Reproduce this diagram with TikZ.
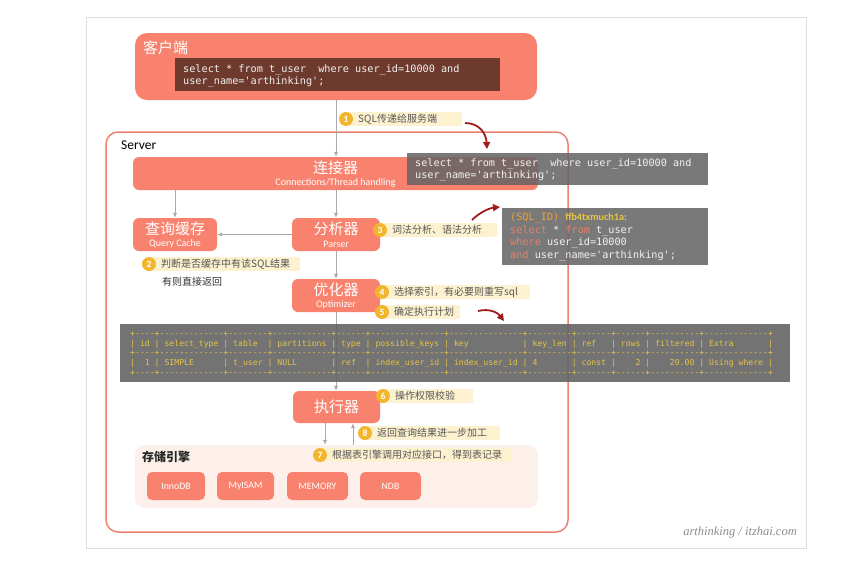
\documentclass[tikz,border=0pt]{standalone}
\usepackage{fontspec}
\setmainfont{Noto Sans CJK SC}
\newfontfamily\lat{Carlito}
\newfontfamily\wmfont{Liberation Serif}
\setmonofont{DejaVu Sans Mono}
\usetikzlibrary{arrows.meta}
\definecolor{salmon}{RGB}{249,130,110}
\definecolor{srvline}{RGB}{240,128,112}
\definecolor{codebrown}{RGB}{110,58,46}
\definecolor{codegray}{RGB}{100,100,100}
\definecolor{lblfillc}{RGB}{253,242,208}
\definecolor{badgegold}{RGB}{242,182,46}
\definecolor{lbltextc}{RGB}{85,85,85}
\definecolor{storebg}{RGB}{253,240,234}
\definecolor{arrowgray}{RGB}{170,170,170}
\definecolor{darkred}{RGB}{160,28,28}
\definecolor{kwc}{RGB}{232,130,105}
\definecolor{tblyellow}{RGB}{230,196,70}
\definecolor{sqlid}{RGB}{235,160,60}
\definecolor{framegray}{RGB}{222,222,222}
\definecolor{codewhite}{RGB}{242,242,242}
\newcommand\kwd[1]{\textcolor{kwc}{#1}}
\newcommand\steplbl[5]{%
  \fill[lblfillc] (#2+2,#3-7) rectangle (#4,#3+7);
  \node[badge] (b#1) at (#2,#3) {#1};
  \node[lbltxt, anchor=west] (t#1) at (#2+12,#3) {#5};
}
\begin{document}
\begin{tikzpicture}[x=1pt,y=-1pt,
  sbox/.style={fill=salmon, rounded corners=6pt, inner sep=0pt},
  cjktitle/.style={text=white, font=\fontsize{15}{16}\selectfont, inner sep=0pt},
  subtitle/.style={text=white, font=\lat\fontsize{10}{10}\selectfont, inner sep=0pt},
  codebox/.style={fill=codegray, fill opacity=0.86, inner sep=0pt},
  codetxt/.style={font=\ttfamily\fontsize{10.2}{12.3}\selectfont, text=codewhite, align=left, inner sep=0pt, anchor=west},
  garrow/.style={draw=arrowgray, line width=1pt, -{Latex[length=5pt,width=4.5pt]}},
  rarrow/.style={draw=darkred, line width=1.8pt, -{Triangle[length=7pt,width=7pt]}},
  badge/.style={circle, fill=badgegold, text=white, inner sep=0pt, minimum size=14pt, font=\lat\bfseries\fontsize{9.5}{9.5}\selectfont},
  lbltxt/.style={text=lbltextc, inner sep=0pt, font=\fontsize{10}{11}\selectfont},
  engine/.style={fill=salmon, rounded corners=5pt, minimum height=28pt, inner sep=0pt, text=white, font=\lat\fontsize{9.8}{10}\selectfont}
]
\useasboundingbox (0,0) rectangle (859,560);
\fill[white] (0,0) rectangle (859,560);
\draw[framegray, line width=0.8pt] (86,17) rectangle (806,548);

% server container
\node[draw=srvline, line width=1.5pt, fill=white, rounded corners=12pt, minimum width=462pt, minimum height=400pt, inner sep=0pt] (server) at (337,332) {};
\node[anchor=west, inner sep=0pt, font=\lat\fontsize{13.5}{14}\selectfont] (srvlbl) at (121,145) {Server};

% client
\node[sbox, rounded corners=12pt, minimum width=402pt, minimum height=67pt] (client) at (336,66.5) {};
\node[cjktitle, anchor=west] (clientlbl) at (143,48) {客户端};
\node[fill=codebrown, inner sep=0pt, minimum width=325pt, minimum height=33pt] (code1) at (337.5,74.5) {};
\node[codetxt] (code1txt) at (183,75.5) {select * from t\_user~~where user\_id=10000 and\\user\_name='arthinking';};

% storage background
\node[fill=storebg, rounded corners=10pt, minimum width=403pt, minimum height=63pt, inner sep=0pt] (store) at (336.5,476.5) {};
\node[anchor=west, inner sep=0pt, font=\bfseries\fontsize{12}{13}\selectfont, text=black!85] (storelbl) at (142,457) {存储引擎};

% main boxes
\node[sbox, minimum width=405pt, minimum height=33pt] (conn) at (335.5,173.5) {};
\node[cjktitle] (connt) at (335.5,168) {连接器};
\node[subtitle] (conns) at (335.5,183) {Connections/Thread handling};

\node[sbox, minimum width=84pt, minimum height=33pt] (cache) at (175,234.5) {};
\node[cjktitle] (cachet) at (175,229) {查询缓存};
\node[subtitle] (caches) at (175,244) {Query Cache};

\node[sbox, minimum width=88pt, minimum height=33pt] (parser) at (336,234.5) {};
\node[cjktitle] (parsert) at (336,229) {分析器};
\node[subtitle] (parsers) at (336,244) {Parser};

\node[sbox, minimum width=88pt, minimum height=33pt] (opt) at (336,295.5) {};
\node[cjktitle] (optt) at (336,290) {优化器};
\node[subtitle] (opts) at (336,305) {Optimizer};

\node[sbox, minimum width=87pt, minimum height=32pt] (exec) at (336.5,407) {};
\node[cjktitle] (exect) at (336.5,407) {执行器};

% engines
\node[engine, minimum width=58pt] (innodb) at (176,486) {InnoDB};
\node[engine, minimum width=57pt] (myisam) at (245.5,486) {MyISAM};
\node[engine, minimum width=61pt] (memory) at (317.5,486) {MEMORY};
\node[engine, minimum width=61pt] (ndb) at (390.5,486) {NDB};

% gray connectors
\draw[garrow] (client.south) -- (client.south |- conn.north);
\draw[garrow] (conn.south -| cache.north) -- (cache.north);
\draw[garrow] (conn.south -| parser.north) -- (parser.north);
\draw[garrow] (parser.west) -- (cache.east);
\draw[garrow] (parser.south) -- (opt.north);
\draw[garrow] (opt.south) -- (opt.south |- exec.north);
\draw[garrow] ([xshift=-11.5pt]exec.south) -- ([xshift=-11.5pt]exec.south |- store.north);
\draw[garrow] ([xshift=16.5pt]exec.south |- store.north) -- ([xshift=16.5pt]exec.south);

% step labels
\steplbl{1}{346}{119}{462}{SQL传递给服务端}
\steplbl{2}{149}{264}{300}{判断是否缓存中有该SQL结果}
\node[anchor=west, inner sep=0pt, text=black!80, font=\fontsize{10}{11}\selectfont] (t2b) at (162,282) {有则直接返回};
\steplbl{3}{380}{230}{497}{词法分析、语法分析}
\steplbl{4}{382}{292}{530}{选择索引，有必要则重写sql}
\steplbl{5}{382}{312}{460}{确定执行计划}
\steplbl{6}{383}{396}{473}{操作权限校验}
\steplbl{8}{365}{433}{500}{返回查询结果进一步加工}
\steplbl{7}{320}{455}{512}{根据表引擎调用对应接口，得到表记录}

% red curved arrows
\coordinate (r1s) at (465,123); \coordinate (r1e) at (487,149);
\draw[rarrow] (r1s) .. controls (478,123) and (486,132) .. (r1e);
\coordinate (r2s) at (472,220); \coordinate (r2e) at (500,207);
\draw[rarrow] (r2s) .. controls (480,212) and (490,208) .. (r2e);
\coordinate (r3s) at (478,311); \coordinate (r3e) at (504,321);
\draw[rarrow] (r3s) .. controls (490,308) and (498,313) .. (r3e);

% gray code boxes
\node[codebox, minimum width=301pt, minimum height=32pt] (gray1) at (557.5,169) {};
\node[codetxt] (gray1txt) at (415,169.5) {select * from t\_user~~where user\_id=10000 and\\user\_name='arthinking';};

\node[codebox, minimum width=206pt, minimum height=57pt] (gray2) at (605,236.5) {};
\node[codetxt, font=\ttfamily\fontsize{10.2}{12.5}\selectfont] (gray2txt) at (510,237) {\textcolor{sqlid}{(SQL\_ID)} \textcolor{tblyellow}{\lat\bfseries ffb4txmuch1a:}\\\kwd{select} * \kwd{from} t\_user\\\kwd{where} user\_id=10000\\\kwd{and} user\_name='arthinking';};

% explain table
\node[codebox, fill opacity=0.9, minimum width=670pt, minimum height=58pt] (tbl) at (455,353) {};
\node[anchor=west, inner sep=0pt, align=left, text=tblyellow, font=\ttfamily\fontsize{8.15}{9.8}\selectfont] (tbltxt) at (130,353.5) {%
+----+-------------+--------+------------+------+---------------+---------------+---------+-------+------+----------+-------------+\\
|~id~|~select\_type~|~table~~|~partitions~|~type~|~possible\_keys~|~key~~~~~~~~~~~|~key\_len~|~ref~~~|~rows~|~filtered~|~Extra~~~~~~~|\\
+----+-------------+--------+------------+------+---------------+---------------+---------+-------+------+----------+-------------+\\
|~~1~|~SIMPLE~~~~~~|~t\_user~|~NULL~~~~~~~|~ref~~|~index\_user\_id~|~index\_user\_id~|~4~~~~~~~|~const~|~~~~2~|~~~~20.00~|~Using~where~|\\
+----+-------------+--------+------------+------+---------------+---------------+---------+-------+------+----------+-------------+};

% watermark
\node[anchor=east, inner sep=0pt, text=black!45, font=\wmfont\itshape\fontsize{12.5}{13}\selectfont] (wm) at (797,532) {arthinking / itzhai.com};
\end{tikzpicture}
\end{document}
